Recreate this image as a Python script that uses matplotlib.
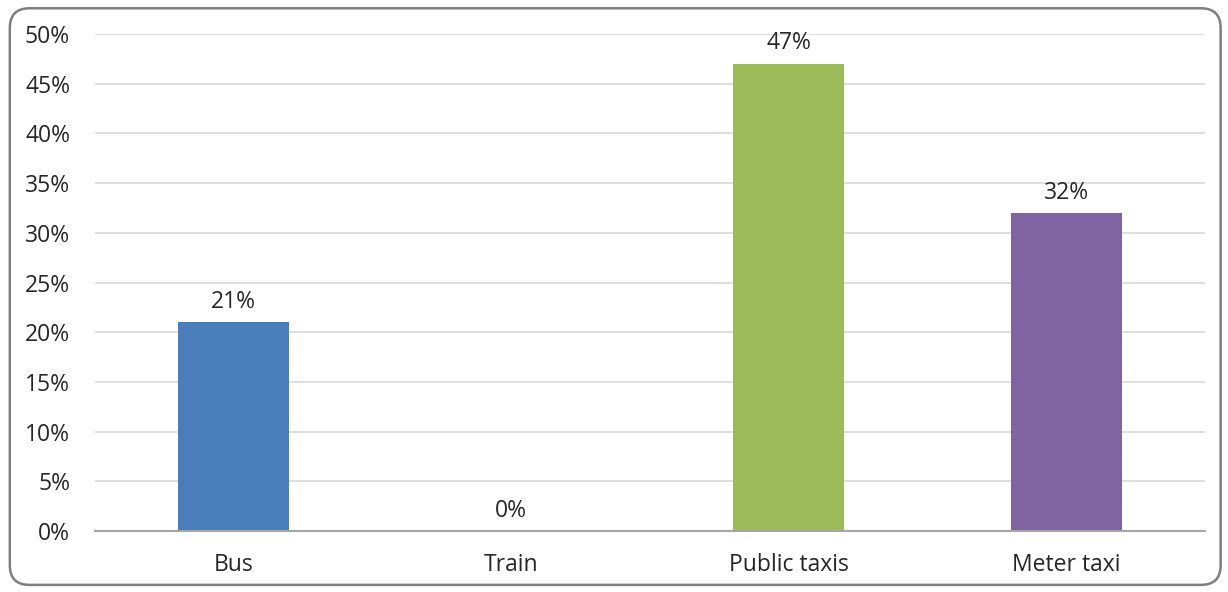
import numpy as np
import matplotlib.pyplot as plt
from matplotlib.patches import FancyBboxPatch

categories = ["Bus", "Train", "Public taxis", "Meter taxi"]
shares = [21, 0, 47, 32]
bar_colors = ["#4A7EBB", "#4F81BD", "#9BBB59", "#8064A2"]
yticks = [0, 5, 10, 15, 20, 25, 30, 35, 40, 45, 50]

plt.rcParams['font.family'] = ['Open Sans', 'DejaVu Sans']
fs = 16.5

fig = plt.figure(figsize=(12.28, 5.92), dpi=100)
ax = fig.add_axes([0.0774, 0.103, 0.9039, 0.8396])

x = np.arange(len(categories))
ax.bar(x, shares, width=0.4, color=bar_colors, zorder=3)

for xi, v in zip(x, shares):
    ax.annotate(f"{v}%", (xi, v), xytext=(0, 6), textcoords="offset points",
                ha="center", va="bottom", fontsize=fs, color="#262626")

ax.set_xlim(-0.5, len(categories) - 0.5)
ax.set_ylim(0, 50)
ax.set_yticks(yticks)
ax.set_yticklabels([f"{t}%" for t in yticks], fontsize=fs, color="#262626")
ax.set_xticks(x)
ax.set_xticklabels(categories, fontsize=fs, color="#262626")
ax.tick_params(axis="both", length=0)
ax.tick_params(axis="x", pad=16)
ax.tick_params(axis="y", pad=18)

ax.grid(axis="y", color="#D9D9D9", linewidth=1.2, zorder=0)
for side in ["top", "right", "left"]:
    ax.spines[side].set_visible(False)
ax.spines["bottom"].set_color("#A6A6A6")
ax.spines["bottom"].set_linewidth(1.5)
ax.spines["bottom"].set_zorder(4)

border = FancyBboxPatch((0.008, 0.012), 0.986, 0.974, transform=fig.transFigure,
                        boxstyle="round,pad=0,rounding_size=0.016",
                        mutation_aspect=2.07,
                        facecolor="none", edgecolor="#7F7F7F", linewidth=1.8)
fig.patches.append(border)

fig.savefig("out.png", dpi=100)
